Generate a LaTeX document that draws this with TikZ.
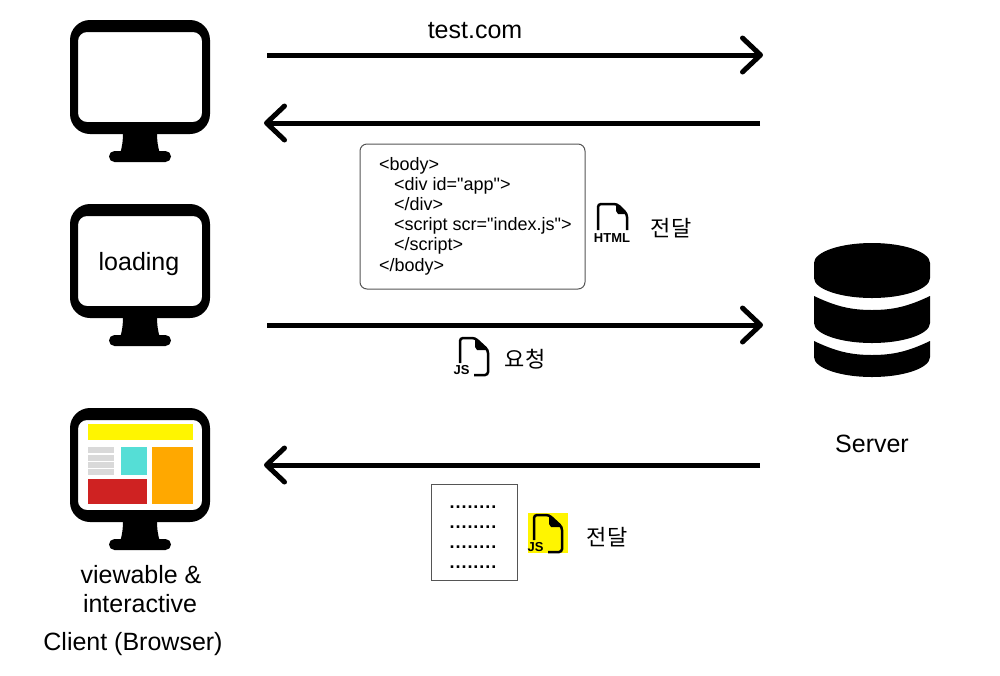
\documentclass[tikz,border=0pt]{standalone}
\usepackage{fontspec}
\setmainfont{Liberation Sans}
\newfontfamily\codefont{Liberation Sans}[Ligatures=TeXOff]
\newfontfamily\krfont{Noto Sans CJK KR}
\usetikzlibrary{arrows.meta}
\definecolor{jsyellow}{HTML}{FFF500}
\definecolor{blockteal}{HTML}{55DED6}
\definecolor{blockorange}{HTML}{FFA800}
\definecolor{blockred}{HTML}{CF2222}
\definecolor{blockgray}{HTML}{D9D9D9}
\definecolor{boxgray}{HTML}{555555}
\tikzset{
  flow/.style={line width=5pt,-{Straight Barb[length=18pt,width=34pt,line width=5pt,round]}},
  label/.style={font=\fontsize{25}{29}\selectfont,inner sep=0pt},
  krlabel/.style={font=\krfont\fontsize{22}{26}\selectfont,inner sep=0pt},
  monitor/.pic={
    \fill[even odd rule] (-70,20) .. controls (-70,9) and (-61,0) .. (-50,0) -- (50,0)
      .. controls (61,0) and (70,9) .. (70,20) -- (70,94) .. controls (70,105) and (61,114) .. (50,114)
      -- (-50,114) .. controls (-61,114) and (-70,105) .. (-70,94) -- cycle
      (-62,21) .. controls (-62,16) and (-58,12) .. (-53,12) -- (53,12)
      .. controls (58,12) and (62,16) .. (62,21) -- (62,93) .. controls (62,98) and (58,102) .. (53,102)
      -- (-53,102) .. controls (-58,102) and (-62,98) .. (-62,93) -- cycle;
    \fill (-17,112) -- (17,112) .. controls (17,122) and (18,127) .. (20,134)
      -- (-20,134) .. controls (-18,127) and (-17,122) .. (-17,112) -- cycle;
    \fill[rounded corners=5.5pt] (-31,131) rectangle (31,142);
  },
  jsfile/.pic={
    \draw[line width=2.5pt,rounded corners=3pt] (0,26) -- (0,1) -- (15,1) -- (28,13) -- (28,38) -- (14,38);
    \fill (15,1) -- (28,13) -- (17,13) -- (15,10) -- cycle;
    \node[inner sep=0pt,font=\bfseries\fontsize{13}{13}\selectfont] at (1.5,33.5) {JS};
  }
}
\begin{document}
\begin{tikzpicture}[x=1pt,y=-1pt]
    \useasboundingbox (0,0) rectangle (1000,675);
    %definitions
    \coordinate (sendA) at (267,55);
    \coordinate (recvA) at (763,55);
    \coordinate (sendB) at (760,123);
    \coordinate (recvB) at (264,123);
    \coordinate (sendC) at (267,325);
    \coordinate (recvC) at (763,325);
    \coordinate (sendD) at (760,465);
    \coordinate (recvD) at (264,465);
    %monitors
    \pic at (140,20) {monitor};
    \pic at (140,204) {monitor};
    \pic at (140,408) {monitor};
    \node[label] (loading) at (139,264) {loading};
    %page on the last monitor
    \fill[jsyellow] (88,424) rectangle (193,440);
    \fill[blockteal] (121,447) rectangle (147,475);
    \fill[blockorange] (152,447) rectangle (193,504);
    \fill[blockred] (88,479) rectangle (147,504);
    \foreach \y in {447,454.5,462,469}
      \fill[blockgray] (88,\y) rectangle (114,\y+6);
    %server
    \fill (814,263) .. controls (814,252) and (840,243) .. (872,243)
      .. controls (904,243) and (930,252) .. (930,263) -- (930,278)
      .. controls (930,289) and (904,298) .. (872,298)
      .. controls (840,298) and (814,289) .. (814,278) -- cycle;
    \fill (814,296) .. controls (835,306) and (850,310) .. (872,310)
      .. controls (894,310) and (909,306) .. (930,296) -- (930,323)
      .. controls (930,334) and (904,343) .. (872,343)
      .. controls (840,343) and (814,334) .. (814,323) -- cycle;
    \fill (814,341) .. controls (835,351) and (850,355) .. (872,355)
      .. controls (894,355) and (909,351) .. (930,341) -- (930,357)
      .. controls (930,368) and (904,377) .. (872,377)
      .. controls (840,377) and (814,368) .. (814,357) -- cycle;
    \node[label] (server) at (872,444) {Server};
    %arrows
    \draw[flow] (sendA) -- (recvA);
    \draw[flow] (sendB) -- (recvB);
    \draw[flow] (sendC) -- (recvC);
    \draw[flow] (sendD) -- (recvD);
    \node[label] (url) at (475,31) {test.com};
    %html box
    \node[draw=boxgray,line width=1pt,rounded corners=7pt,minimum width=225pt,minimum height=145pt,inner sep=0pt] (htmlbox) at (472.5,216.5) {};
    \node[anchor=west,align=left,inner sep=0pt,font=\codefont\fontsize{18}{20.2}\selectfont] (htmlcode) at (379,216)
      {<body>\\\hspace*{15pt}<div id="app">\\\hspace*{15pt}</div>\\\hspace*{15pt}<script scr="index.js">\\\hspace*{15pt}</script>\\</body>};
    \draw[line width=2.5pt,rounded corners=3pt] (598,230) -- (598,204) -- (617,204) -- (627,214) -- (627,230);
    \fill (616,204) -- (627,214) -- (618,214) -- (616,211) -- cycle;
    \node[inner sep=0pt,font=\bfseries\fontsize{13}{13}\selectfont] (htmlname) at (612,238) {HTML};
    \node[krlabel] (htmlsend) at (671,228) {전달};
    %js request
    \pic at (460,337) {jsfile};
    \node[krlabel] (jsask) at (525,359) {요청};
    %js answer
    \node[draw=boxgray,line width=1pt,minimum width=86pt,minimum height=96pt,inner sep=0pt] (dotbox) at (474,532) {};
    \node[inner sep=0pt,align=center,yshift=-5pt,xshift=-1pt,
      font=\bfseries\fontsize{18}{20}\selectfont\addfontfeature{LetterSpace=5.5}] (dotlines) at (dotbox)
      {........\\........\\........\\........};
    \fill[jsyellow] (528,513) rectangle (568,553);
    \pic at (534,514) {jsfile};
    \node[krlabel] (jssend) at (607,537) {전달};
    %captions
    \node[label] (viewable) at (141,575) {viewable \&};
    \node[label] (interactive) at (140,604) {interactive};
    \node[label] (client) at (133,644) {Client (Browser)};
\end{tikzpicture}
\end{document}
